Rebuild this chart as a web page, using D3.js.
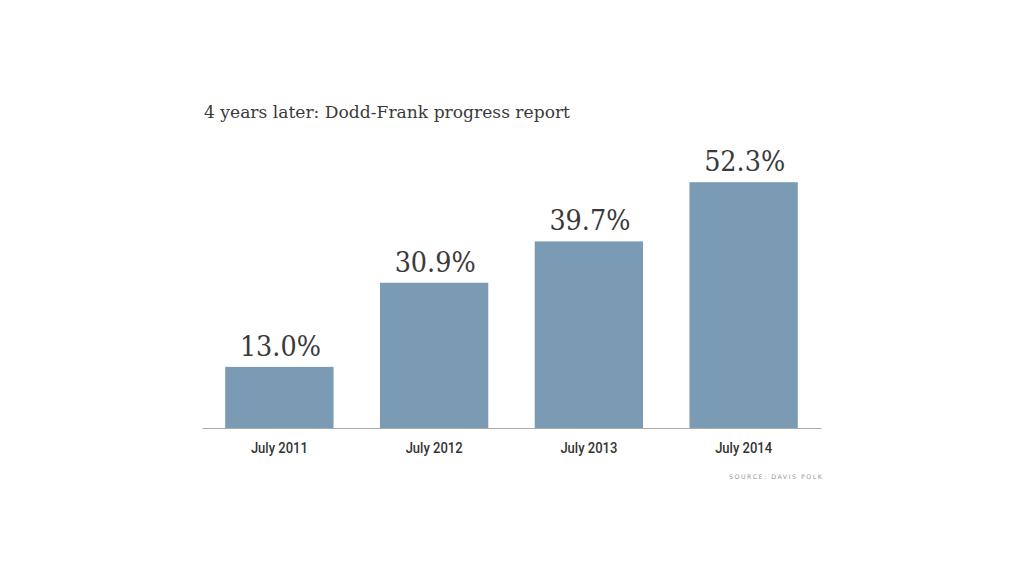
<!DOCTYPE html>
<html><head><meta charset="utf-8">
<script src="https://cdn.jsdelivr.net/npm/d3@7"></script>
<style>html,body{margin:0;padding:0;background:#fff;}</style>
</head><body>
<svg id="chart" width="1024" height="576"></svg>
<script>
const categories = ["July 2011", "July 2012", "July 2013", "July 2014"];
const values = [13.0, 30.9, 39.7, 52.3];
const valueLabels = ["13.0%", "30.9%", "39.7%", "52.3%"];
const title = "4 years later: Dodd-Frank progress report";
const source = "SOURCE: DAVIS POLK";

const svg = d3.select("#chart");
const x = d3.scaleBand().domain(categories).range([202, 821]).paddingInner(0.3).paddingOuter(0.15);
const y = d3.scaleLinear().domain([0, 60]).range([428, 146]);

svg.append("text").attr("x", 204).attr("y", 117.5)
  .attr("font-family", "DejaVu Serif, serif").attr("font-size", 16)
  .attr("textLength", 366).attr("lengthAdjust", "spacingAndGlyphs")
  .attr("fill", "#3a3a3a").text(title);

svg.selectAll("rect.bar").data(values).join("rect").attr("class", "bar")
  .attr("x", (d, i) => x(categories[i])).attr("width", x.bandwidth())
  .attr("y", d => y(d)).attr("height", d => y(0) - y(d))
  .attr("fill", "#7a9bb3");

svg.selectAll("text.val").data(values).join("text").attr("class", "val")
  .attr("x", (d, i) => x(categories[i]) + x.bandwidth() / 2 + 1)
  .attr("y", d => y(d) - 11)
  .attr("text-anchor", "middle")
  .attr("font-family", "DejaVu Serif, serif").attr("font-size", 28.5)
  .attr("textLength", 81).attr("lengthAdjust", "spacingAndGlyphs")
  .attr("fill", "#3a3a3a").text((d, i) => valueLabels[i]);

const xAxis = d3.axisBottom(x).tickSize(0).tickPadding(14);
const g = svg.append("g").attr("transform", "translate(0,428)").call(xAxis);
g.select(".domain").attr("stroke", "#aaa").attr("stroke-width", 1.2);
g.selectAll(".tick text")
  .attr("font-family", "Roboto, sans-serif")
  .attr("font-size", 15.5).attr("font-weight", 500).attr("fill", "#333")
  .attr("textLength", 57).attr("lengthAdjust", "spacingAndGlyphs");

svg.append("text").attr("x", 822).attr("y", 479).attr("text-anchor", "end")
  .attr("font-family", "DejaVu Sans, sans-serif").attr("font-size", 6.3)
  .attr("textLength", 93).attr("lengthAdjust", "spacing")
  .attr("fill", "#999").text(source);
</script>
</body></html>
